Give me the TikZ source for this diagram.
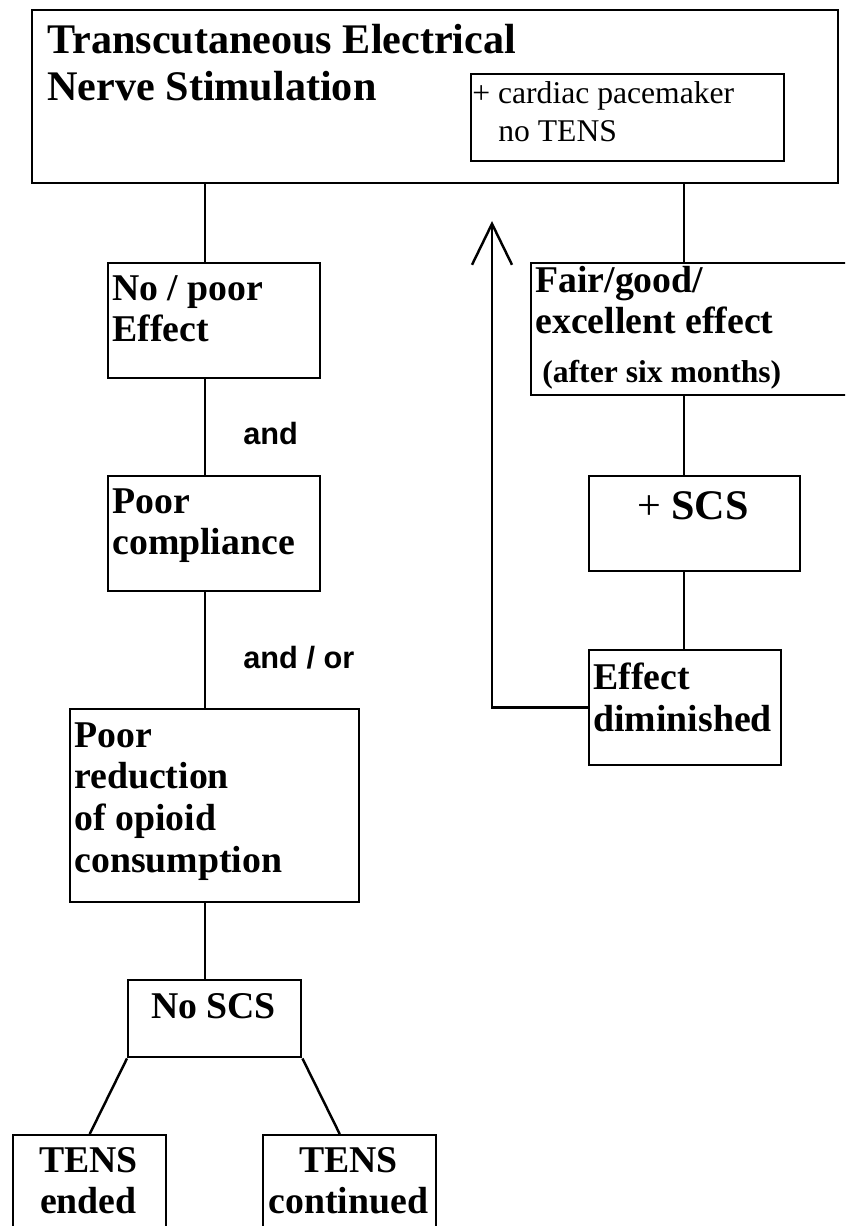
\documentclass[tikz,border=0pt]{standalone}
\usepackage{fontspec}
\setmainfont{Liberation Serif}
\setsansfont{Liberation Sans}
\usetikzlibrary{calc}
\usetikzlibrary{arrows.meta}

\tikzset{
	box/.style={draw, line width=1.4pt, rectangle, inner sep=0pt, anchor=north west},
	boxtext/.style={font=\bfseries\fontsize{21.5}{23.4}\selectfont, align=left, inner sep=0pt, anchor=north west},
	link/.style={line width=1.4pt},
	joiner/.style={font=\sffamily\bfseries\fontsize{17.5}{20}\selectfont, inner sep=0pt, anchor=base west}
}

\begin{document}
\begin{tikzpicture}[x=0.02cm, y=-0.02cm]
						\useasboundingbox (0,0) rectangle (845,1226);
						\clip (0,0) rectangle (845,1226);

						\coordinate (lx) at (205,0);
						\coordinate (rx) at (684,0);
						\coordinate (back) at (492,221);

						% top of the tree
						\node[box, minimum width=16.12cm, minimum height=3.46cm] (tens) at (31,9) {};
						\node[boxtext, font=\bfseries\fontsize{24}{26.7}\selectfont] (tensT) at (47,24) {Transcutaneous Electrical\\Nerve Stimulation};
						\node[box, minimum width=6.26cm, minimum height=1.74cm] (pace) at (470,73) {};
						\node[boxtext, font=\fontsize{18}{22}\selectfont] (paceT) at (472,81) {+ cardiac pacemaker\\\hspace{0.52cm}no TENS};

						% left branch
						\node[box, minimum width=4.24cm, minimum height=2.30cm] (noEff) at (107,262) {};
						\node[boxtext] (noEffT) at (112,275) {No / poor\\Effect};

						\node[box, minimum width=4.24cm, minimum height=2.30cm] (poorComp) at (107,475) {};
						\node[boxtext] (poorCompT) at (112,488) {Poor\\compliance};

						\node[box, minimum width=5.78cm, minimum height=3.86cm] (poorRed) at (69,708) {};
						\node[boxtext, font=\bfseries\fontsize{21.5}{23.7}\selectfont] (poorRedT) at (74,722) {Poor\\reduction\\of opioid\\consumption};

						\node[box, minimum width=3.46cm, minimum height=1.54cm] (noSCS) at (127,979) {};
						\node[boxtext, anchor=base] (noSCST) at (213.5,1018) {No SCS};

						\node[box, minimum width=3.06cm, minimum height=2.2cm] (ended) at (12,1134) {};
						\node[boxtext, align=center, anchor=north] (endedT) at (88.5,1147) {TENS\\ended};

						\node[box, minimum width=3.46cm, minimum height=2.2cm] (cont) at (262,1134) {};
						\node[boxtext, align=center, anchor=north] (contT) at (348.5,1147) {TENS\\continued};

						\node[joiner] (and) at (243,444) {and};
						\node[joiner] (andor) at (243,668) {and / or};

						% right branch
						\node[box, minimum width=6.6cm, minimum height=2.64cm] (fair) at (530,262) {};
						\node[boxtext] (fairT) at (535,266) {Fair/good/\\excellent effect};
						\node[boxtext, anchor=base west, font=\bfseries\fontsize{18}{20}\selectfont] (fairS) at (542,382) {(after six months)};

						\node[box, minimum width=4.22cm, minimum height=1.90cm] (scs) at (588,475) {};
						\node[boxtext, anchor=base, font=\fontsize{24}{26}\selectfont] (scsT) at (693,519) {+ \textbf{SCS}};

						\node[box, minimum width=3.84cm, minimum height=2.30cm] (dimin) at (588,649) {};
						\node[boxtext] (diminT) at (593,663) {Effect\\diminished};

						% connectors
						\draw[link] (tens.south -| lx) -- (noEff.north -| lx);
						\draw[link] (noEff.south -| lx) -- (poorComp.north -| lx);
						\draw[link] (poorComp.south -| lx) -- (poorRed.north -| lx);
						\draw[link] (poorRed.south -| lx) -- (noSCS.north -| lx);
						\draw[link] (noSCS.south west) -- (ended.north);
						\draw[link] (noSCS.south east) -- ($(cont.north)+(-10,0)$);

						\draw[link] (tens.south -| rx) -- (fair.north -| rx);
						\draw[link] (fair.south -| rx) -- (scs.north -| rx);
						\draw[link] (scs.south -| rx) -- (dimin.north -| rx);
						\draw[link, -{Straight Barb[length=8.2mm, width=8mm, line width=1.4pt]}] (dimin.west) -| (back);
\end{tikzpicture}
\end{document}
